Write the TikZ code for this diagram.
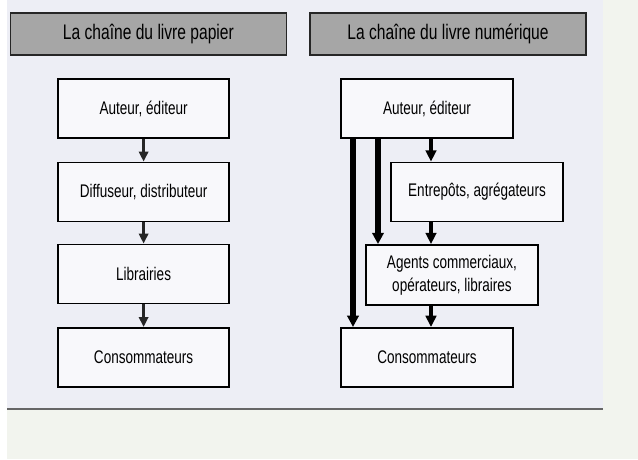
\documentclass[tikz,border=0pt]{standalone}
\usepackage{fontspec}
\setmainfont[FakeStretch=0.74]{Liberation Sans}
\usetikzlibrary{arrows.meta}
\definecolor{papier}{HTML}{F2F4EE}
\definecolor{scan}{HTML}{EDEEF5}
\begin{document}
\begin{tikzpicture}[
	font=\fontsize{13}{16.5}\selectfont,
	titre/.style={draw=black!85, line width=1.1pt, fill=black!35, minimum width=6.9cm, minimum height=1.05cm, font=\fontsize{15}{18}\selectfont},
	boite/.style={draw, line width=1.3pt, fill=white!60!scan, minimum width=4.28cm, minimum height=1.475cm, align=center},
	fin/.style={-{Triangle[width=6.5pt,length=7pt]}, line width=1.8pt, black!85},
	gros/.style={-{Triangle[width=8pt,length=8pt]}, line width=4pt},
	moyen/.style={-{Triangle[width=7.5pt,length=8pt]}, line width=2.2pt}]
	% fond
	\fill[papier] (0,0) rectangle (15.95,11.475);
	\fill[white] (0,0) rectangle (0.175,11.475);
	\fill[scan] (0.175,1.25) rectangle (15.075,11.475);
	\draw[black!60, line width=0.8pt] (0.175,1.25) -- (15.075,1.25);
	% titres
	\node[titre] (t1) at (3.71,10.625) {La chaîne du livre papier};
	\node[titre] (t2) at (11.2,10.625) {La chaîne du livre numérique};
	% chaine papier
	\node[boite] (p1) at (3.59,8.76) {Auteur, éditeur};
	\node[boite] (p2) at (3.59,6.675) {Diffuseur, distributeur};
	\node[boite] (p3) at (3.59,4.625) {Librairies};
	\node[boite] (p4) at (3.59,2.54) {Consommateurs};
	\draw[fin] (p1) -- (p2);
	\draw[fin] (p2) -- (p3);
	\draw[fin] (p3) -- (p4);
	% chaine numerique
	\node[boite] (n1) at (10.675,8.76) {Auteur, éditeur};
	\node[boite] (n2) at (11.925,6.675) {Entrepôts, agrégateurs};
	\node[boite, minimum height=1.5cm] (n3) at (11.3,4.6) {Agents commerciaux,\\opérateurs, libraires};
	\node[boite] (n4) at (10.675,2.54) {Consommateurs};
	\draw[moyen] (n1.south -| 10.775,0) -- (n2.north -| 10.775,0);
	\draw[moyen] (n2.south -| 10.775,0) -- (n3.north -| 10.775,0);
	\draw[moyen] (n3.south -| 10.775,0) -- (n4.north -| 10.775,0);
	\draw[gros] (n1.south -| 8.825,0) -- (n4.north -| 8.825,0);
	\draw[gros] (n1.south -| 9.45,0) -- (n3.north -| 9.45,0);
\end{tikzpicture}
\end{document}
